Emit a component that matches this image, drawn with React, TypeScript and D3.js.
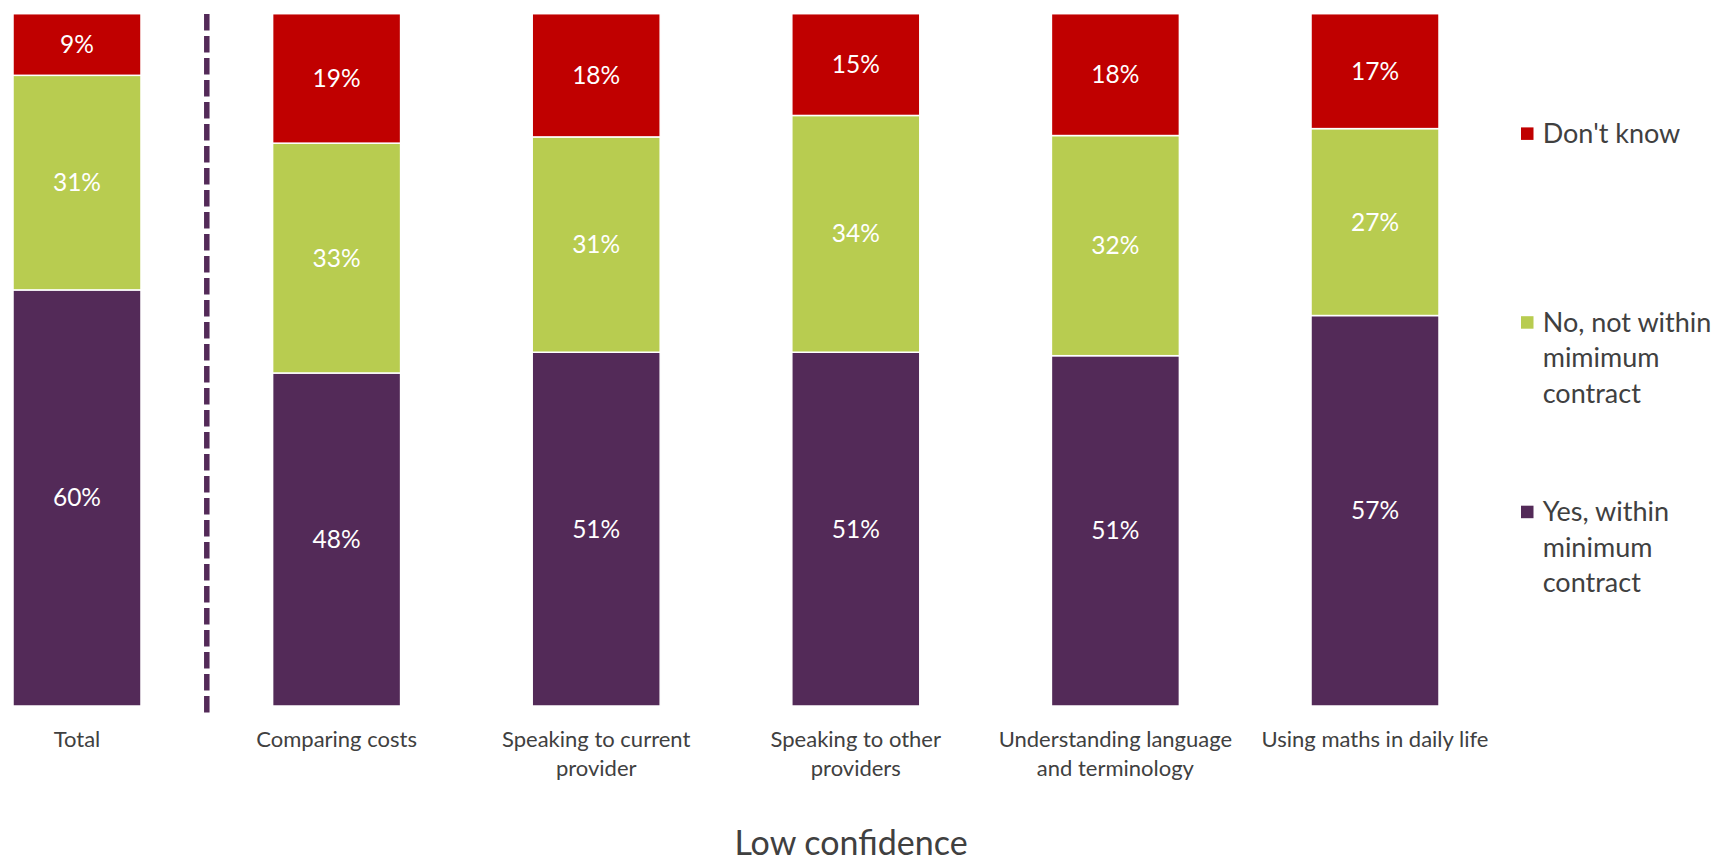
import React from "react";
import * as d3 from "d3";

const categories = [
  "Total",
  "Comparing costs",
  "Speaking to current\nprovider",
  "Speaking to other\nproviders",
  "Understanding language\nand terminology",
  "Using maths in daily life",
];

const yesWithin = [60.1, 48.1, 51.1, 51.1, 50.6, 56.4];
const noNotWithin = [31.0, 33.2, 31.1, 34.2, 31.8, 27.0];
const dontKnow = [8.9, 18.7, 17.8, 14.7, 17.6, 16.6];

const yesLabels = ["60%", "48%", "51%", "51%", "51%", "57%"];
const noLabels = ["31%", "33%", "31%", "34%", "32%", "27%"];
const dkLabels = ["9%", "19%", "18%", "15%", "18%", "17%"];

const seriesNames = ["Yes, within minimum contract", "No, not within mimimum contract", "Don't know"];
const legendLines = [
  ["Don't know"],
  ["No, not within", "mimimum", "contract"],
  ["Yes, within", "minimum", "contract"],
];
const axisTitle = "Low confidence";

const W = 1717;
const H = 860;
const FONT = "Lato, 'Open Sans', sans-serif";
const TEXT = "#404040";
const colors = ["#532A58", "#B8CC50", "#C00000"];

export default function App() {
  const x = d3
    .scaleBand<string>()
    .domain(categories)
    .range([13, 1439])
    .paddingInner(0.507)
    .paddingOuter(0);
  const y = d3.scaleLinear().domain([0, 100]).range([706, 13.7]);

  const rows = categories.map((c, i) => ({
    cat: c,
    yes: yesWithin[i],
    no: noNotWithin[i],
    dk: dontKnow[i],
  }));
  const stack = d3.stack<any>().keys(["yes", "no", "dk"]);
  const series = stack(rows);
  const labelSets = [yesLabels, noLabels, dkLabels];

  const bw = x.bandwidth();
  const dividerX = (x(categories[0])! + bw + x(categories[1])!) / 2;

  const legendY = [133.7, 322.5, 512];
  const legendOrder = [2, 1, 0];

  return (
    <svg
      width={W}
      height={H}
      style={{ position: "absolute", left: 0, top: 0, background: "#fff" }}
      fontFamily={FONT}
    >
      {series.map((s, si) => (
        <g key={si}>
          {s.map((d, i) => (
            <rect
              key={i}
              x={x(categories[i])}
              y={y(d[1])}
              width={bw}
              height={y(d[0]) - y(d[1])}
              fill={colors[si]}
              stroke="#fff"
              strokeWidth={1.5}
            />
          ))}
          {s.map((d, i) => (
            <text
              key={"t" + i}
              x={x(categories[i])! + bw / 2}
              y={(y(d[0]) + y(d[1])) / 2 + 8.5}
              textAnchor="middle"
              fill="#fff"
              fontSize={24.5}
            >
              {labelSets[si][i]}
            </text>
          ))}
        </g>
      ))}

      <line
        x1={dividerX}
        x2={dividerX}
        y1={14}
        y2={715}
        stroke="#532A58"
        strokeWidth={5.5}
        strokeDasharray="16.5 5.5"
      />

      {categories.map((c, i) =>
        c.split("\n").map((line, li) => (
          <text
            key={c + li}
            x={x(c)! + bw / 2}
            y={747 + li * 28.5}
            textAnchor="middle"
            fill={TEXT}
            fontSize={22}
          >
            {line}
          </text>
        ))
      )}

      <text x={851} y={855} textAnchor="middle" fill={TEXT} fontSize={34}>
        {axisTitle}
      </text>

      {legendOrder.map((si, k) => (
        <g key={si} aria-label={seriesNames[si]}>
          <rect
            x={1521}
            y={legendY[k] - 6.3}
            width={12.5}
            height={12.5}
            fill={colors[si]}
          />
          {legendLines[k].map((ln, li) => (
            <text
              key={li}
              x={1542.7}
              y={legendY[k] + 9 + li * 35.7}
              fill={TEXT}
              fontSize={27}
            >
              {ln}
            </text>
          ))}
        </g>
      ))}
    </svg>
  );
}
